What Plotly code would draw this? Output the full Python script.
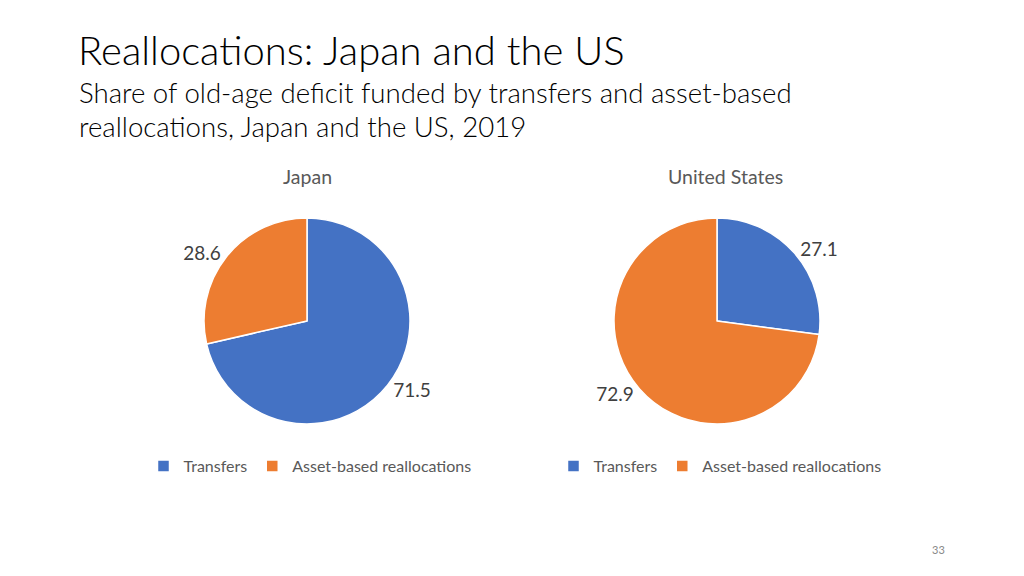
import plotly.graph_objects as go

# Share of old-age deficit funded, 2019 (%)
labels = ["Transfers", "Asset-based reallocations"]
japan_values = [71.5, 28.6]
us_values = [27.1, 72.9]
panel_titles = ["Japan", "United States"]

BLUE = "#4472C4"
ORANGE = "#ED7D31"
FONT = "Lato"
W, H = 1024, 576
OFF = 8  # page body margin in the browser


def px(x):
    return (x - OFF) / W


def py(y):
    return 1 - (y - OFF) / H


def pie_domain(cx, cy, r=103):
    return {"x": [px(cx - r), px(cx + r)], "y": [py(cy + r), py(cy - r)]}


# pie legends merge identical labels across traces, so the US copy gets an
# invisible suffix to keep its own legend
us_labels = [lab + "\u200b" for lab in labels]

fig = go.Figure()

for labs, values, cx, leg in [(labels, japan_values, 307, "legend"),
                              (us_labels, us_values, 717, "legend2")]:
    fig.add_trace(go.Pie(
        labels=labs, values=values, sort=False, direction="clockwise",
        marker={"colors": [BLUE, ORANGE], "line": {"color": "white", "width": 1.5}},
        textposition="outside", texttemplate="%{value}",
        textfont={"size": 19, "color": "#404040", "family": FONT},
        domain=pie_domain(cx, 321),
        legend=leg, hoverinfo="label+value",
    ))

legend_style = dict(
    orientation="h", xanchor="center", yanchor="middle", y=py(466),
    font={"size": 16, "color": "#595959", "family": FONT},
    bgcolor="rgba(0,0,0,0)", itemwidth=30,
)

annotations = [
    dict(text="Reallocations: Japan and the US", x=px(76), y=py(50),
         font={"size": 40, "color": "#000000", "family": FONT, "weight": 300}),
    dict(text="Share of old-age deficit funded by transfers and asset-based",
         x=px(77), y=py(93),
         font={"size": 27.6, "color": "#000000", "family": FONT, "weight": 300}),
    dict(text="reallocations, Japan and the US, 2019",
         x=px(77), y=py(126),
         font={"size": 27.6, "color": "#000000", "family": FONT, "weight": 300}),
    dict(text="33", x=px(938), y=py(549), xanchor="center",
         font={"size": 11, "color": "#898989", "family": FONT}),
]
for a in annotations:
    a.update(xref="paper", yref="paper", showarrow=False, yanchor="middle",
             xanchor=a.get("xanchor", "left"))

for title, cx in zip(panel_titles, [307, 725]):
    annotations.append(dict(
        text=title, x=px(cx), y=py(176), xref="paper", yref="paper",
        showarrow=False, xanchor="center", yanchor="middle",
        font={"size": 19.5, "color": "#595959", "family": FONT},
    ))

fig.update_layout(
    width=W, height=H,
    margin={"l": 0, "r": 0, "t": 0, "b": 0},
    paper_bgcolor="white", plot_bgcolor="white",
    legend=dict(legend_style, x=px(310)),
    legend2=dict(legend_style, x=px(720)),
    annotations=annotations,
)

fig.write_html("out.html")
